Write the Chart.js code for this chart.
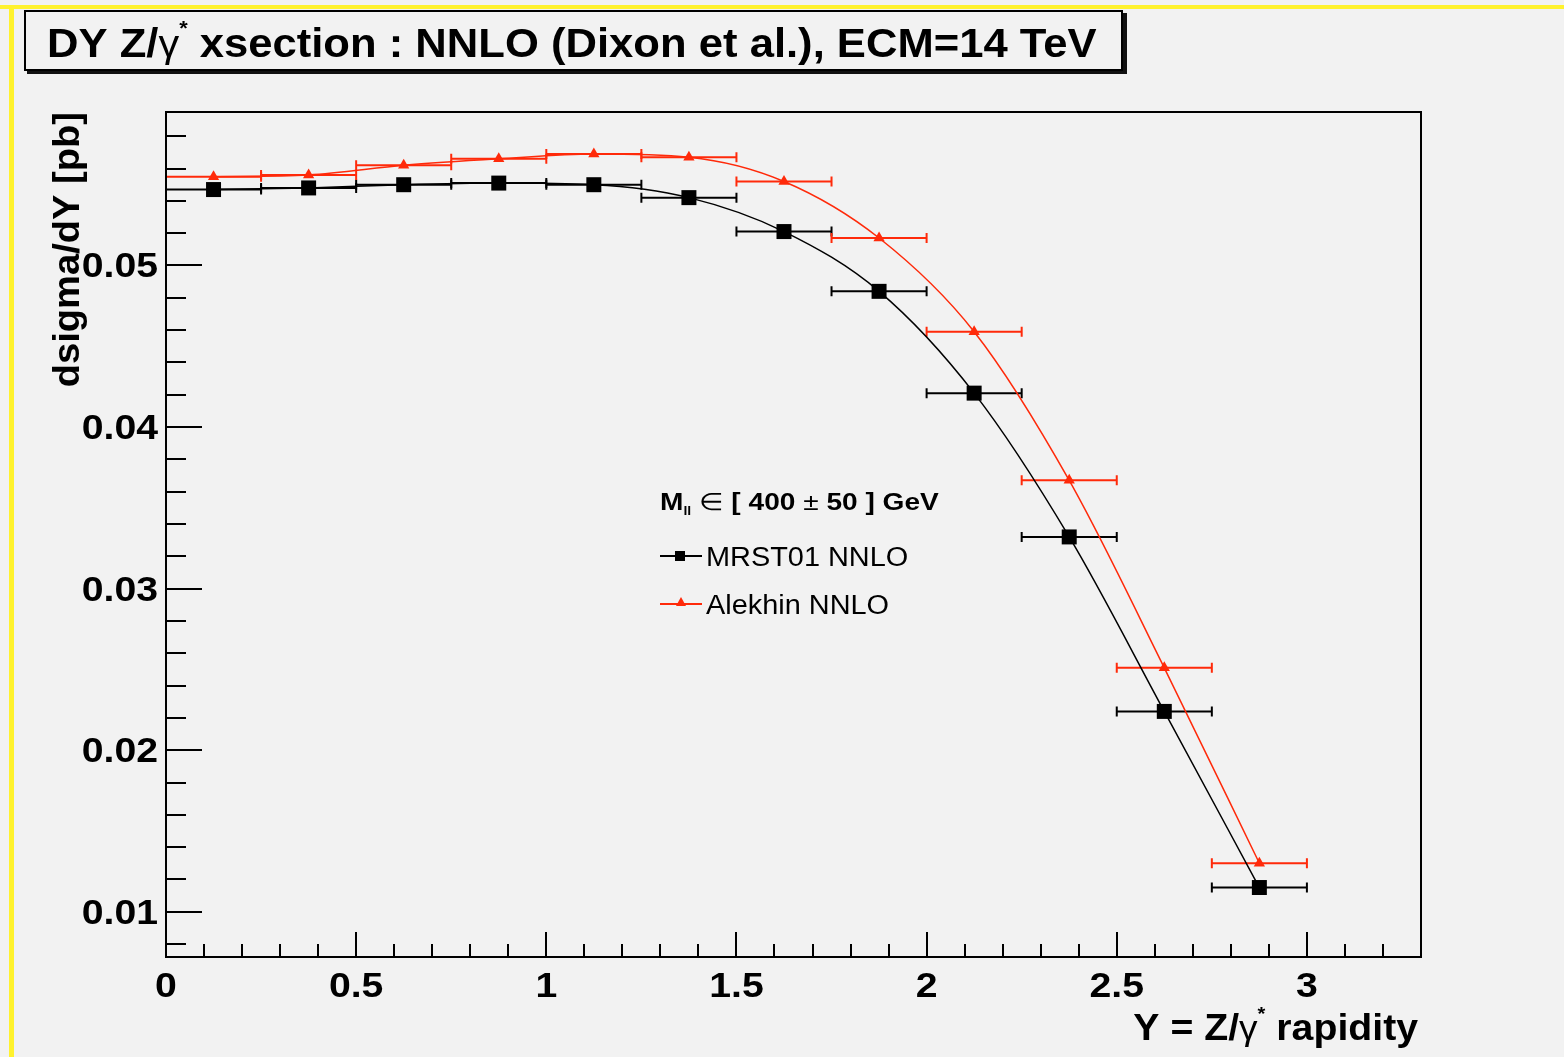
<!DOCTYPE html>
<html>
<head>
<meta charset="utf-8">
<title>DY Z/γ* xsection</title>
<script src="https://cdn.jsdelivr.net/npm/chart.js@4.4.1/dist/chart.umd.min.js"></script>
<style>
  html, body { margin: 0; padding: 0; background: #f2f2f2; }
  canvas { display: block; }
</style>
</head>
<body>
<canvas id="dyChart" width="1564" height="1057"></canvas>
<script>
// rapidity bins (centre +- half width) and the two NNLO predictions
const rapidity = [0.125, 0.375, 0.625, 0.875, 1.125, 1.375, 1.625, 1.875, 2.125, 2.375, 2.625, 2.875];
const binHalfWidth = 0.125;
const mrst01 = [0.0547, 0.0548, 0.0550, 0.0551, 0.0550, 0.0542, 0.0521, 0.0484, 0.0421, 0.0332, 0.0224, 0.0115];
const alekhin = [0.0555, 0.0556, 0.0562, 0.0566, 0.0569, 0.0567, 0.0552, 0.0517, 0.0459, 0.0367, 0.0251, 0.0130];

const xTicks = [0, 0.5, 1, 1.5, 2, 2.5, 3];
const xTickLabels = ['0', '0.5', '1', '1.5', '2', '2.5', '3'];
const yTicks = [0.01, 0.02, 0.03, 0.04, 0.05];
const yTickLabels = ['0.01', '0.02', '0.03', '0.04', '0.05'];

const FONT = '"Liberation Sans", Arial, Helvetica, sans-serif';
const RED = '#ff2a0a';
const BG = '#f2f2f2';

// text helpers: the ROOT fonts run a little wider than Liberation, so stretch in x
function runsWidth(ctx, runs, sx) {
    let w = 0;
    runs.forEach(r => {
        ctx.font = r.font + ' ' + FONT;
        w += ctx.measureText(r.text).width * sx;
    });
    return w;
}

function drawRuns(ctx, x, y, runs, sx) {
    ctx.textAlign = 'left';
    ctx.textBaseline = 'alphabetic';
    runs.forEach(r => {
        ctx.font = r.font + ' ' + FONT;
        ctx.save();
        ctx.translate(x, y + (r.dy || 0));
        ctx.scale(sx, 1);
        ctx.fillText(r.text, 0, 0);
        ctx.restore();
        x += ctx.measureText(r.text).width * sx;
    });
}

function drawText(ctx, text, x, y, font, sx, align) {
    const run = [{ text: text, font: font }];
    const w = runsWidth(ctx, run, sx);
    const x0 = align === 'right' ? x - w : align === 'center' ? x - w / 2 : x;
    drawRuns(ctx, x0, y, run, sx);
}

function errorBars(ctx, xs, ys, values, color) {
    ctx.save();
    ctx.strokeStyle = color;
    ctx.lineWidth = 2;
    values.forEach((v, i) => {
        const x1 = xs.getPixelForValue(rapidity[i] - binHalfWidth);
        const x2 = xs.getPixelForValue(rapidity[i] + binHalfWidth);
        const y = ys.getPixelForValue(v);
        ctx.beginPath();
        ctx.moveTo(x1, y);
        ctx.lineTo(x2, y);
        ctx.moveTo(x1, y - 5);
        ctx.lineTo(x1, y + 5);
        ctx.moveTo(x2, y - 5);
        ctx.lineTo(x2, y + 5);
        ctx.stroke();
    });
    ctx.restore();
}

const rootStyle = {
    id: 'rootStyle',
    beforeDraw(chart) {
        const ctx = chart.ctx;
        ctx.save();
        ctx.fillStyle = BG;
        ctx.fillRect(0, 0, chart.width, chart.height);

        // yellow canvas edge
        ctx.fillStyle = '#fff22e';
        ctx.fillRect(0, 5, chart.width, 4);
        ctx.fillRect(9, 5, 5, chart.height - 5);

        // title box with shadow
        ctx.fillStyle = '#111';
        ctx.fillRect(27, 13, 1100, 61);
        ctx.fillStyle = BG;
        ctx.fillRect(24, 10, 1099, 61);
        ctx.strokeStyle = '#000';
        ctx.lineWidth = 2;
        ctx.strokeRect(25, 11, 1097, 59);

        ctx.fillStyle = '#000';
        drawRuns(ctx, 47, 57, [
            { text: 'DY Z/', font: 'bold 40px' },
            { text: 'γ', font: '38px' },
            { text: '*', font: 'bold 20px', dy: -22 },
            { text: ' xsection : NNLO (Dixon et al.), ECM=14 TeV', font: 'bold 40px' }
        ], 1.09);
        ctx.restore();
    },
    beforeDatasetsDraw(chart) {
        const ctx = chart.ctx;
        const xs = chart.scales.x, ys = chart.scales.y;
        errorBars(ctx, xs, ys, mrst01, '#000');
        errorBars(ctx, xs, ys, alekhin, RED);
    },
    afterDatasetsDraw(chart) {
        const ctx = chart.ctx;
        const a = chart.chartArea;
        const xs = chart.scales.x, ys = chart.scales.y;
        ctx.save();
        ctx.strokeStyle = '#000';
        ctx.lineWidth = 2;
        ctx.strokeRect(a.left, a.top, a.right - a.left, a.bottom - a.top);

        // inward ticks, 5 subdivisions per labelled step
        ctx.beginPath();
        for (let k = 4; k <= 29; k++) {
            const y = Math.round(ys.getPixelForValue(k / 500));
            const len = k % 5 === 0 ? 36 : 20;
            ctx.moveTo(a.left, y);
            ctx.lineTo(a.left + len, y);
        }
        for (let k = 1; k <= 33; k++) {
            const x = Math.round(xs.getPixelForValue(k / 10));
            const len = k % 5 === 0 ? 25 : 13;
            ctx.moveTo(x, a.bottom);
            ctx.lineTo(x, a.bottom - len);
        }
        ctx.stroke();

        // tick labels
        ctx.fillStyle = '#000';
        yTicks.forEach((v, i) => {
            drawText(ctx, yTickLabels[i], a.left - 8, ys.getPixelForValue(v) + 12, 'bold 35px', 1.12, 'right');
        });
        xTicks.forEach((v, i) => {
            drawText(ctx, xTickLabels[i], xs.getPixelForValue(v), 997, 'bold 35px', 1.12, 'center');
        });

        // axis titles
        ctx.save();
        ctx.translate(79, a.top);
        ctx.rotate(-Math.PI / 2);
        drawText(ctx, 'dsigma/dY [pb]', 0, 0, 'bold 37px', 1.03, 'right');
        ctx.restore();

        const xTitle = [
            { text: 'Y = Z/', font: 'bold 37px' },
            { text: 'γ', font: '35px' },
            { text: '*', font: 'bold 19px', dy: -20 },
            { text: ' rapidity', font: 'bold 37px' }
        ];
        drawRuns(ctx, a.right - 3 - runsWidth(ctx, xTitle, 1.06), 1040, xTitle, 1.06);

        // legend
        drawRuns(ctx, 660, 510, [
            { text: 'M', font: 'bold 24px' },
            { text: 'll', font: 'bold 12px', dy: 5 },
            { text: ' ∈ ', font: '24px' },
            { text: '[ 400 ', font: 'bold 24px' },
            { text: '±', font: '24px' },
            { text: ' 50 ] GeV', font: 'bold 24px' }
        ], 1.17);

        ctx.lineWidth = 2;
        ctx.strokeStyle = '#000';
        ctx.beginPath();
        ctx.moveTo(660, 556);
        ctx.lineTo(702, 556);
        ctx.stroke();
        ctx.fillRect(675, 551, 10, 10);

        ctx.strokeStyle = RED;
        ctx.fillStyle = RED;
        ctx.beginPath();
        ctx.moveTo(660, 604);
        ctx.lineTo(702, 604);
        ctx.stroke();
        ctx.beginPath();
        ctx.moveTo(681, 597);
        ctx.lineTo(686, 606);
        ctx.lineTo(676, 606);
        ctx.closePath();
        ctx.fill();

        ctx.fillStyle = '#000';
        drawText(ctx, 'MRST01 NNLO', 706, 566, '27px', 1.07, 'left');
        drawText(ctx, 'Alekhin NNLO', 706, 614, '27px', 1.07, 'left');
        ctx.restore();
    }
};

const ctx = document.getElementById('dyChart').getContext('2d');

new Chart(ctx, {
    type: 'scatter',
    data: {
        datasets: [{
            label: 'MRST01 NNLO',
            data: rapidity.map((x, i) => ({ x: x, y: mrst01[i] })),
            showLine: true,
            borderColor: '#000',
            borderWidth: 1.5,
            cubicInterpolationMode: 'monotone',
            pointStyle: 'rect',
            pointRadius: 10.6,
            pointHoverRadius: 10.6,
            pointBackgroundColor: '#000',
            pointBorderWidth: 0
        }, {
            label: 'Alekhin NNLO',
            data: rapidity.map((x, i) => ({ x: x, y: alekhin[i] })),
            showLine: true,
            borderColor: RED,
            borderWidth: 1.5,
            cubicInterpolationMode: 'monotone',
            pointStyle: 'triangle',
            pointRadius: 6.5,
            pointHoverRadius: 6.5,
            pointBackgroundColor: RED,
            pointBorderWidth: 0
        }]
    },
    options: {
        responsive: false,
        animation: false,
        devicePixelRatio: 1,
        layout: {
            padding: { top: 112, right: 143, bottom: 0, left: 0 }
        },
        plugins: {
            legend: { display: false },
            title: { display: false },
            tooltip: { enabled: false }
        },
        scales: {
            x: {
                type: 'linear',
                min: 0,
                max: 3.3,
                afterFit: s => { s.height = 100; },
                afterBuildTicks: s => { s.ticks = xTicks.map(v => ({ value: v })); },
                grid: { display: false },
                border: { display: false },
                ticks: { display: false }
            },
            y: {
                type: 'linear',
                min: 0.0072,
                max: 0.0595,
                afterFit: s => { s.width = 166; },
                afterBuildTicks: s => { s.ticks = yTicks.map(v => ({ value: v })); },
                grid: { display: false },
                border: { display: false },
                ticks: { display: false }
            }
        }
    },
    plugins: [rootStyle]
});
</script>
</body>
</html>
